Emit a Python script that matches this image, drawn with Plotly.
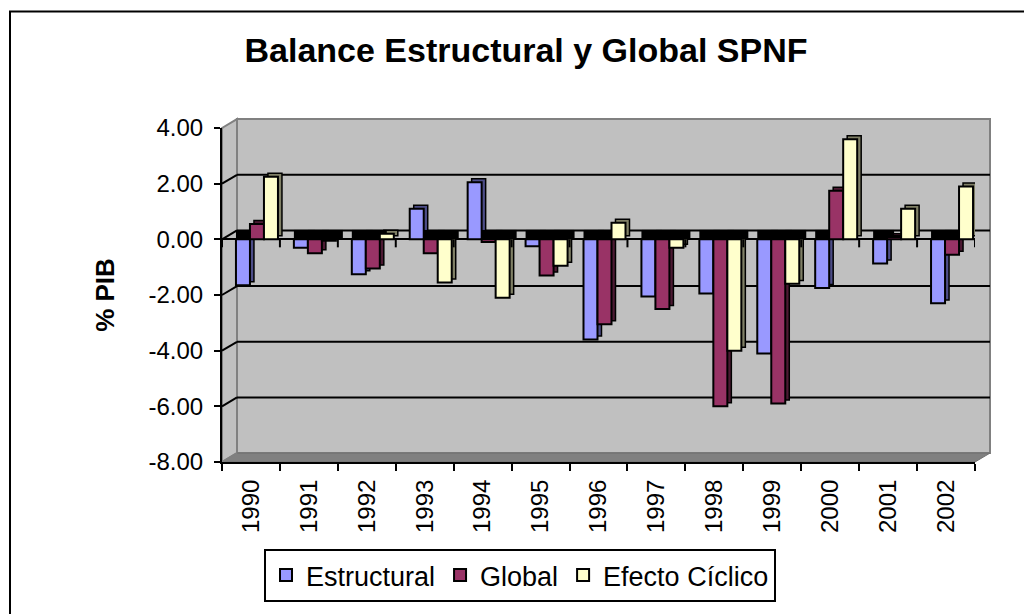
import plotly.graph_objects as go

# ---------------- data ----------------
years = ["1990", "1991", "1992", "1993", "1994", "1995", "1996",
         "1997", "1998", "1999", "2000", "2001", "2002"]
estructural = [-1.65, -0.30, -1.25, 1.10, 2.05, -0.25, -3.60,
               -2.05, -1.95, -4.10, -1.75, -0.87, -2.30]
global_ = [0.55, -0.50, -1.05, -0.50, -0.10, -1.30, -3.05,
           -2.50, -6.00, -5.90, 1.75, 0.08, -0.55]
efecto = [2.25, -0.05, 0.20, -1.55, -2.10, -0.95, 0.60,
          -0.30, -4.00, -1.60, 3.60, 1.10, 1.90]
series_names = ["Estructural", "Global", "Efecto Cíclico"]
y_ticks = [-8, -6, -4, -2, 0, 2, 4]
y_tick_labels = ["-8.00", "-6.00", "-4.00", "-2.00", "0.00", "2.00", "4.00"]

# ---------------- styles / geometry ----------------
W, H = 1024, 614
L, R, T, B = 222, 975, 128, 466
YMIN, YMAX = -8, 4
XMIN, XMAX = -0.5, len(years) - 0.5
PXW, PXH = R - L, B - T
UX = (XMAX - XMIN) / PXW       # x data units per pixel
UY = (YMAX - YMIN) / PXH       # y data units per pixel
WALL_DX, WALL_DY = 15, 9       # back wall offset (px)
BAR_DX, BAR_DY = 4, 3.5        # bar depth (px)
BAND_DX, BAND_DY = 7, 9.5      # top band of negative bars (px)
SHIFT = 6 * UX
BW = 0.2417

front_cols = ["#9999FF", "#993366", "#FFFFCC"]
side_cols = ["#4D4D88", "#4D1A33", "#808066"]
FONT = "Liberation Sans, Arial, sans-serif"


def pxx(p):
    return (p - L) / PXW


def pxy(p):
    return (B - p) / PXH


idx = list(range(len(years)))
data = [estructural, global_, efecto]
fig = go.Figure()

# shadows (side/top faces)
for k, vals in enumerate(data):
    xc = [i + SHIFT + (k - 1) * BW for i in idx]
    fig.add_trace(go.Bar(
        x=[x + BAR_DX * UX for x in xc], y=vals, base=BAR_DY * UY, width=BW,
        marker=dict(color=side_cols[k], line=dict(color="black", width=1.5)),
        showlegend=False, hoverinfo="skip"))

# black top bands at zero for negative bars
for k, vals in enumerate(data):
    xs = [i + SHIFT + (k - 1) * BW + BAND_DX * UX / 2 for i, v in zip(idx, vals) if v < 0]
    fig.add_trace(go.Bar(
        x=xs, y=[BAND_DY * UY] * len(xs), width=BW + BAND_DX * UX,
        marker=dict(color="black", line=dict(width=0)),
        showlegend=False, hoverinfo="skip"))

# front faces
for k, vals in enumerate(data):
    xc = [i + SHIFT + (k - 1) * BW for i in idx]
    fig.add_trace(go.Bar(
        x=xc, y=vals, width=BW, name=series_names[k],
        marker=dict(color=front_cols[k], line=dict(color="black", width=2))))

shapes = []
# outer frame
shapes.append(dict(type="rect", xref="paper", yref="paper",
                   x0=pxx(10), x1=pxx(1040), y0=pxy(630), y1=pxy(10),
                   line=dict(color="black", width=2), fillcolor="rgba(0,0,0,0)", layer="below"))
# back wall
shapes.append(dict(type="rect", xref="paper", yref="paper",
                   x0=pxx(L + WALL_DX), x1=pxx(R + WALL_DX), y0=pxy(B - WALL_DY), y1=pxy(T - WALL_DY),
                   fillcolor="#C0C0C0", line=dict(color="#808080", width=2), layer="below"))
# left wall
shapes.append(dict(type="path", xref="paper", yref="paper",
                   path=f"M {pxx(L)},{pxy(T)} L {pxx(L+WALL_DX)},{pxy(T-WALL_DY)} "
                        f"L {pxx(L+WALL_DX)},{pxy(B-WALL_DY)} L {pxx(L)},{pxy(B)} Z",
                   fillcolor="#C0C0C0", line=dict(color="#808080", width=2), layer="below"))
# floor
shapes.append(dict(type="path", xref="paper", yref="paper",
                   path=f"M {pxx(L)},{pxy(B)} L {pxx(L+WALL_DX)},{pxy(B-WALL_DY)} "
                        f"L {pxx(R+WALL_DX)},{pxy(B-WALL_DY)} L {pxx(R)},{pxy(B)} Z",
                   fillcolor="#808080", line=dict(color="#707070", width=1), layer="below"))
# gridlines on back wall and left wall
for v in y_ticks:
    inner = YMIN < v < YMAX
    col = "black" if inner else "#808080"
    if inner:
        shapes.append(dict(type="line", xref="paper", yref="y",
                           x0=pxx(L + WALL_DX), x1=pxx(R + WALL_DX),
                           y0=v + WALL_DY * UY, y1=v + WALL_DY * UY,
                           line=dict(color="black", width=2), layer="below"))
    shapes.append(dict(type="line", xref="paper", yref="y",
                       x0=0, x1=pxx(L + WALL_DX), y0=v, y1=v + WALL_DY * UY,
                       line=dict(color=col, width=2), layer="below"))
# tick marks on the zero line at category boundaries
for i in range(len(years) + 1):
    shapes.append(dict(type="line", xref="x", yref="y", ysizemode="pixel", yanchor=0,
                       x0=i - 0.5, x1=i - 0.5, y0=0, y1=-8,
                       line=dict(color="black", width=2)))
fig.update_layout(shapes=shapes)

fig.update_layout(
    width=W, height=H,
    margin=dict(l=L, r=W - R, t=T, b=H - B, pad=0),
    paper_bgcolor="white", plot_bgcolor="rgba(0,0,0,0)",
    barmode="overlay",
    font=dict(family=FONT, color="black"),
    title=dict(text="<b>Balance Estructural y Global SPNF</b>",
               font=dict(size=34, family=FONT, color="black"),
               x=526 / W, xref="container", xanchor="center",
               y=1 - 50 / H, yref="container", yanchor="middle"),
    xaxis=dict(range=[XMIN, XMAX], tickmode="array", tickvals=idx, ticktext=years,
               tickangle=-90, ticks="", showline=True, linecolor="black", linewidth=2,
               showgrid=False, zeroline=False, tickfont=dict(size=24),
               ticklabelstandoff=6,
               minor=dict(tickvals=[i - 0.5 for i in range(len(years) + 1)],
                          ticks="outside", ticklen=7, tickwidth=2, tickcolor="black",
                          showgrid=False)),
    yaxis=dict(range=[YMIN, YMAX], tickmode="array", tickvals=y_ticks, ticktext=y_tick_labels,
               ticks="outside", ticklen=6, tickwidth=2, tickcolor="black",
               showline=True, linecolor="black", linewidth=2, showgrid=False,
               zeroline=True, zerolinecolor="black", zerolinewidth=2,
               tickfont=dict(size=24), ticklabelstandoff=6,
               title=dict(text="<b>% PIB</b>", font=dict(size=26), standoff=26)),
    legend=dict(orientation="h", x=pxx(520), xanchor="center", y=pxy(554), yanchor="top",
                bordercolor="black", borderwidth=2, bgcolor="white",
                font=dict(size=27, family=FONT), traceorder="normal"),
    hovermode=False,
)

fig.write_html("out.html", config={"displayModeBar": False},
               post_script="document.body.style.margin='0';document.body.style.overflow='hidden';")
